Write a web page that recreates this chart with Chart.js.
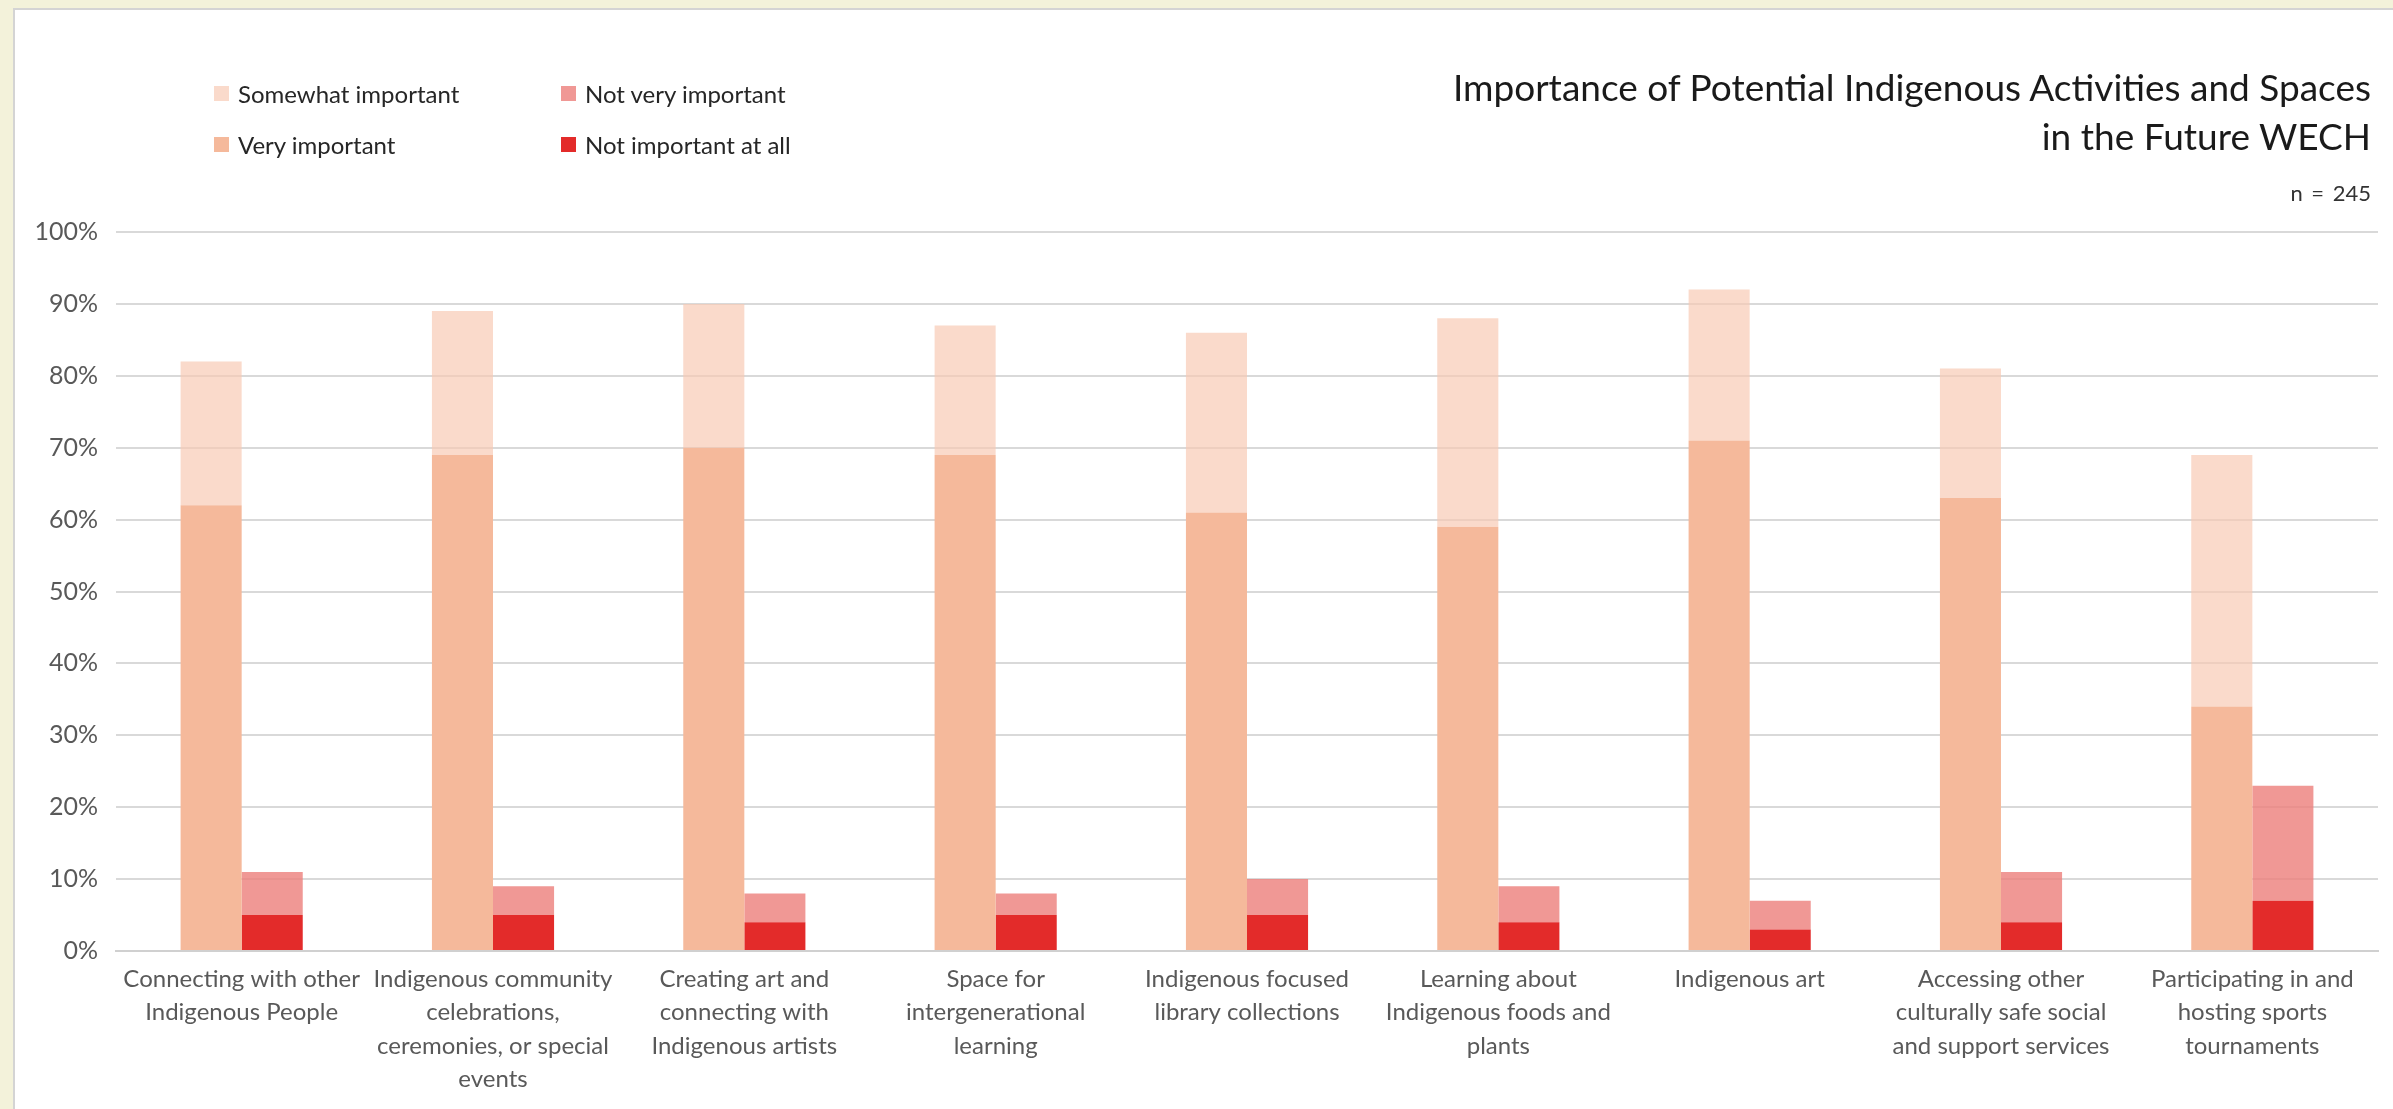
<!DOCTYPE html>
<html>
<head>
<meta charset="utf-8">
<script src="https://cdn.jsdelivr.net/npm/chart.js@4.4.1/dist/chart.umd.min.js"></script>
<style>
  html, body { margin: 0; padding: 0; width: 2393px; height: 1109px; overflow: hidden; background: #F3F2DA; font-family: Lato, "Open Sans", sans-serif; }
  #frame { position: absolute; left: 13px; top: 8px; right: 0; bottom: 0; background: #fff; border-left: 2px solid #d4d4d4; border-top: 2px solid #d4d4d4; }
  #wrap { position: absolute; left: 0; top: 0; width: 2393px; height: 1109px; }
  .title { position: absolute; right: 22px; top: 62px; text-align: right; font-size: 37px; line-height: 49px; color: #1a1a1a; }
  .nlabel { position: absolute; right: 22px; top: 179px; font-size: 22px; color: #333; word-spacing: 3px; }
  .leg { position: absolute; font-size: 24px; color: #262626; display: flex; align-items: center; white-space: nowrap; }
  .leg span.box { display: inline-block; width: 15px; height: 15px; margin-right: 9px; }
</style>
</head>
<body>
<div id="frame"></div>
<div id="wrap"><canvas id="c" width="2393" height="1109"></canvas></div>
<div class="title">Importance of Potential Indigenous Activities and Spaces<br>in the Future WECH</div>
<div class="nlabel">n = 245</div>
<div id="legend"></div>
<script>
const categories = [
  ["Connecting with other", "Indigenous People"],
  ["Indigenous community", "celebrations,", "ceremonies, or special", "events"],
  ["Creating art and", "connecting with", "Indigenous artists"],
  ["Space for", "intergenerational", "learning"],
  ["Indigenous focused", "library collections"],
  ["Learning about", "Indigenous foods and", "plants"],
  ["Indigenous art"],
  ["Accessing other", "culturally safe social", "and support services"],
  ["Participating in and", "hosting sports", "tournaments"]
];
// percentages per segment
const veryImportant     = [62, 69, 70, 69, 61, 59, 71, 63, 34];
const somewhatImportant = [20, 20, 20, 18, 25, 29, 21, 18, 35];
const notAtAll          = [5, 5, 4, 5, 5, 4, 3, 4, 7];
const notVery           = [6, 4, 4, 3, 5, 5, 4, 7, 16];
const yTicks = [0, 10, 20, 30, 40, 50, 60, 70, 80, 90, 100];

const colors = {
  very: "#F5B99B",
  somewhat: "rgba(248,200,178,0.68)",
  notVery: "rgba(236,126,123,0.80)",
  notAtAll: "#E32B2A"
};

// legend (2x2 grid, order as in reference)
const legendItems = [
  { label: "Somewhat  important", color: colors.somewhat, x: 214, y: 95 },
  { label: "Not very  important", color: colors.notVery, x: 561, y: 95 },
  { label: "Very important", color: colors.very, x: 214, y: 146 },
  { label: "Not important at all", color: colors.notAtAll, x: 561, y: 146 }
];
const lg = document.getElementById("legend");
legendItems.forEach(it => {
  const d = document.createElement("div");
  d.className = "leg";
  d.style.left = it.x + "px";
  d.style.top = (it.y - 16) + "px";
  d.innerHTML = '<span class="box" style="background:' + it.color + '"></span>' + it.label;
  lg.appendChild(d);
});

const ctx = document.getElementById("c").getContext("2d");
new Chart(ctx, {
  type: "bar",
  data: {
    labels: categories,
    datasets: [
      { label: "Very important", data: veryImportant, backgroundColor: colors.very, stack: "imp" },
      { label: "Somewhat important", data: somewhatImportant, backgroundColor: colors.somewhat, stack: "imp" },
      { label: "Not important at all", data: notAtAll, backgroundColor: colors.notAtAll, stack: "not" },
      { label: "Not very important", data: notVery, backgroundColor: colors.notVery, stack: "not" }
    ]
  },
  options: {
    responsive: false,
    animation: false,
    layout: { padding: { left: 0, right: 15, top: 232, bottom: 0 } },
    datasets: { bar: { barPercentage: 1.0, categoryPercentage: 0.486, borderWidth: 0 } },
    plugins: { legend: { display: false }, title: { display: false }, tooltip: { enabled: false } },
    scales: {
      x: {
        stacked: true,
        grid: { display: false, drawTicks: false },
        border: { display: true, color: "#d0d0d0", width: 2 },
        ticks: { color: "#595959", font: { family: "Lato", size: 24, lineHeight: 1.38 }, padding: 12, maxRotation: 0, autoSkip: false },
        afterFit: s => { s.height = 158; }
      },
      y: {
        stacked: true,
        min: 0, max: 100,
        afterBuildTicks: s => { s.ticks = yTicks.map(v => ({ value: v })); },
        grid: { color: "#d9d9d9", lineWidth: 2, drawTicks: false },
        border: { display: false },
        ticks: { color: "#595959", font: { family: "Lato", size: 25 }, padding: 18, callback: v => v + "%" },
        afterFit: s => { s.width = 116; }
      }
    }
  }
});
</script>
</body>
</html>
